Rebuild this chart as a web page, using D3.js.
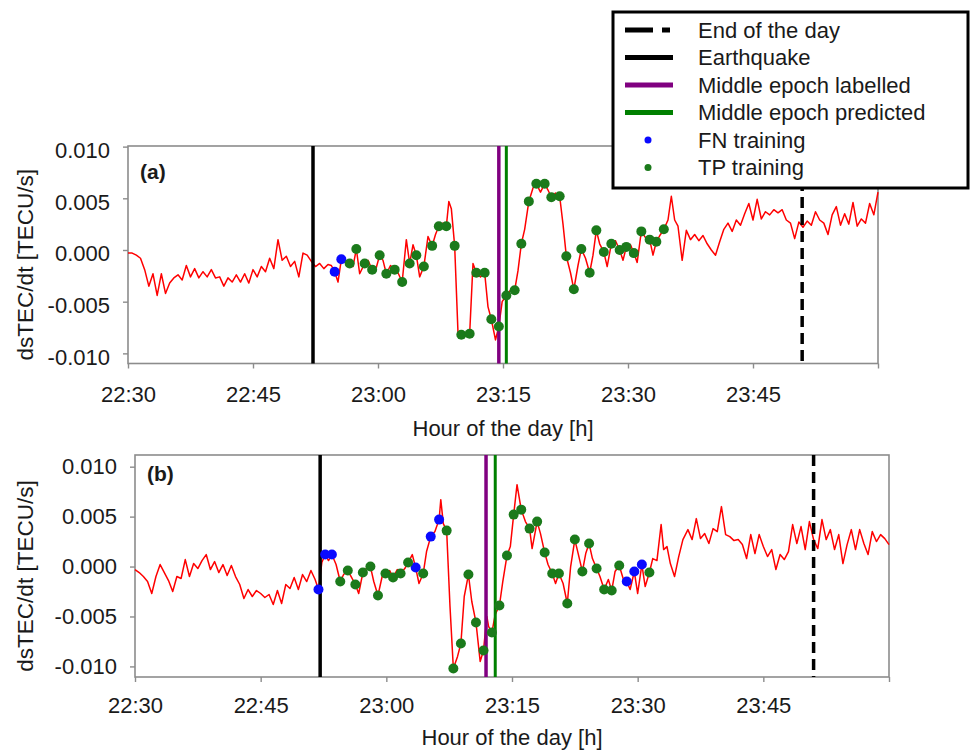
<!DOCTYPE html>
<html>
<head>
<meta charset="utf-8">
<script src="https://d3js.org/d3.v7.min.js"></script>
<style>
  body { margin: 0; background: #fff; }
  text { font-family: "Liberation Sans", Arial, sans-serif; }
</style>
</head>
<body>
<div id="chart"></div>
<script>
// x values are minutes after 22:30, y values are dsTEC/dt in TECU/s

// axis ticks
var xTickMins = [0, 15, 30, 45, 60, 75, 90];
var xTickLabels = ["22:30", "22:45", "23:00", "23:15", "23:30", "23:45", ""];
var yTicks = [-0.010, -0.005, 0.000, 0.005, 0.010];

// vertical markers: end of the day, earthquake, middle epoch labelled, middle epoch predicted
var markerNames = ["End of the day", "Earthquake", "Middle epoch labelled", "Middle epoch predicted"];
var markerMinA = [80.9, 22.2, 44.5, 45.4];
var markerMinB = [81.0, 22.1, 41.9, 43.0];

// Panel (a) series
var minA = [
  0, 0.5, 1, 1.5, 2, 2.5, 3, 3.5, 4, 4.5,
  5, 5.5, 6, 6.5, 7, 7.5, 8, 8.5, 9, 9.5,
  10, 10.5, 11, 11.5, 12, 12.5, 13, 13.5, 14, 14.5,
  15, 15.5, 16, 16.5, 17, 17.5, 18, 18.5, 19, 19.5,
  20, 20.5, 21, 21.5, 22, 22.5, 23, 23.5, 24, 24.4,
  24.8, 25.2, 25.6, 26.1, 26.6, 27.0, 27.4, 27.8, 28.4, 28.8,
  29.3, 29.8, 30.2, 30.6, 31.0, 31.5, 32.0, 32.4, 32.9, 33.4,
  33.8, 34.2, 34.6, 35.0, 35.5, 36.0, 36.5, 36.9, 37.3, 37.8,
  38.2, 38.5, 38.8, 39.2, 39.6, 40.0, 40.5, 41.0, 41.4, 41.8,
  42.3, 42.8, 43.2, 43.6, 44.1, 44.5, 44.9, 45.4, 45.9, 46.4,
  46.8, 47.2, 47.6, 48.1, 48.6, 49.0, 49.5, 50.0, 50.4, 50.8,
  51.3, 51.8, 52.2, 52.6, 53.1, 53.5, 54.0, 54.4, 54.9, 55.4,
  55.8, 56.2, 56.6, 57.1, 57.5, 58.0, 58.5, 59.0, 59.4, 59.8,
  60.3, 60.7, 61.1, 61.6, 62.1, 62.6, 63.0, 63.4, 63.9, 64.3,
  64.8, 65.2, 65.6, 66.0, 66.5, 67.0, 67.5, 68.0, 68.5, 69.0,
  69.5, 70.0, 70.5, 71.0, 71.5, 72.0, 72.5, 73.0, 73.5, 74.0,
  74.5, 75.0, 75.5, 76.0, 76.5, 77.0, 77.5, 78.0, 78.5, 79.0,
  79.5, 80.0, 80.5, 81.0, 81.5, 82.0, 82.5, 83.0, 83.5, 84.0,
  84.5, 85.0, 85.5, 86.0, 86.5, 87.0, 87.5, 88.0, 88.5, 89.0,
  89.5, 90.0
];
var tecA = [
  -0.0003, -0.0003, -0.0005, -0.0008, -0.0019, -0.0035, -0.0023, -0.0044, -0.0023, -0.0042,
  -0.0032, -0.0027, -0.0024, -0.0029, -0.0015, -0.0026, -0.0018, -0.0027, -0.0021, -0.0026,
  -0.0019, -0.0027, -0.0026, -0.0035, -0.0027, -0.0031, -0.0024, -0.0031, -0.0023, -0.0032,
  -0.0019, -0.0026, -0.0016, -0.0021, -0.0008, -0.0018, 0.0010, -0.0010, -0.0006, -0.0016,
  -0.0011, -0.0026, -0.0003, -0.0005, -0.0011, -0.0016, -0.0013, -0.0018, -0.0014, -0.0015,
  -0.0021, -0.0031, -0.0009, -0.0012, -0.0013, -0.0016, 0.0001, -0.0023, -0.0013, -0.0010,
  -0.0019, -0.0017, -0.0005, -0.0010, -0.0023, -0.0015, -0.0019, -0.0022, -0.0031, 0.0010,
  -0.0013, 0.0005, -0.0005, -0.0026, -0.0016, 0.0013, 0.0004, 0.0015, 0.0023, 0.0026,
  0.0023, 0.0047, 0.0040, 0.0004, -0.0080, -0.0082, -0.0082, -0.0081, -0.0013, -0.0022,
  -0.0026, -0.0022, -0.0055, -0.0067, -0.0087, -0.0074, -0.0050, -0.0044, -0.0039, -0.0039,
  -0.0020, 0.0006, 0.0020, 0.0047, 0.0060, 0.0064, 0.0056, 0.0064, 0.0058, 0.0051,
  0.0055, 0.0052, 0.0025, -0.0006, -0.0022, -0.0038, -0.0015, 0.0001, -0.0008, -0.0022,
  -0.0005, 0.0019, 0.0006, -0.0002, -0.0016, 0.0006, 0.0009, 0.0000, -0.0010, 0.0003,
  0.0005, -0.0003, -0.0012, 0.0018, 0.0012, 0.0010, -0.0005, 0.0008, 0.0015, 0.0020,
  0.0029, 0.0052, 0.0029, 0.0023, -0.0010, 0.0019, 0.0010, 0.0015, 0.0009, 0.0014,
  0.0006, 0.0000, -0.0005, 0.0008, 0.0020, 0.0026, 0.0018, 0.0029, 0.0024, 0.0035,
  0.0045, 0.0029, 0.0049, 0.0030, 0.0037, 0.0034, 0.0039, 0.0036, 0.0039, 0.0029,
  0.0026, 0.0011, 0.0027, 0.0022, 0.0028, 0.0024, 0.0037, 0.0029, 0.0026, 0.0015,
  0.0034, 0.0042, 0.0024, 0.0035, 0.0025, 0.0046, 0.0023, 0.0030, 0.0026, 0.0045,
  0.0034, 0.0056
];
var fnMinA = [24.8, 25.6];
var tpMinA = [26.6, 27.4, 28.4, 29.3, 30.2, 31.0, 32.0, 32.9, 33.8, 34.6, 35.5, 36.5, 37.3, 38.2,
  39.2, 40.0, 41.0, 41.8, 42.8, 43.6, 44.5, 45.4, 46.4, 47.2, 48.1, 49.0, 50.0, 50.8, 51.8,
  52.6, 53.5, 54.4, 55.4, 56.2, 57.1, 58.0, 59.0, 59.8, 60.7, 61.6, 62.6, 63.4, 64.3];

// Panel (b) series
var minB = [
  0, 0.5, 1, 1.5, 2, 2.5, 3, 3.5, 4, 4.5,
  5, 5.5, 6, 6.5, 7, 7.5, 8, 8.5, 9, 9.5,
  10, 10.5, 11, 11.5, 12, 12.5, 13, 13.5, 14, 14.5,
  15, 15.5, 16, 16.5, 17, 17.5, 18, 18.5, 19, 19.5,
  20, 20.5, 21, 21.5, 21.9, 22.3, 22.7, 23.1, 23.5, 24.0,
  24.5, 24.9, 25.4, 25.8, 26.3, 26.7, 27.2, 27.6, 28.1, 28.5,
  29.0, 29.5, 29.9, 30.4, 30.8, 31.3, 31.7, 32.2, 32.6, 33.1,
  33.5, 33.9, 34.4, 34.8, 35.3, 35.8, 36.3, 36.5, 36.8, 37.2,
  37.6, 38.0, 38.5, 38.9, 39.3, 39.8, 40.2, 40.7, 41.2, 41.6,
  42.0, 42.2, 42.6, 43.0, 43.5, 43.9, 44.4, 44.8, 45.2, 45.6,
  46.1, 46.6, 47.1, 47.4, 48.0, 48.4, 48.9, 49.3, 49.8, 50.2,
  50.6, 51.1, 51.6, 52.0, 52.5, 52.9, 53.4, 53.8, 54.2, 54.6,
  55.1, 55.5, 56.0, 56.5, 56.9, 57.3, 57.8, 58.3, 58.7, 59.1,
  59.6, 60.0, 60.5, 60.9, 61.4, 61.8, 62.3, 62.8, 63.1, 63.5,
  63.9, 64.4, 64.9, 65.4, 66.0, 66.5, 67.0, 67.5, 68.0, 68.5,
  69.0, 69.5, 70.0, 70.5, 71.0, 71.5, 72.0, 72.5, 73.0, 73.5,
  74.0, 74.5, 75.0, 75.5, 76.0, 76.5, 77.0, 77.5, 78.0, 78.5,
  79.0, 79.5, 80.0, 80.5, 81.0, 81.5, 82.0, 82.5, 83.0, 83.5,
  84.0, 84.5, 85.0, 85.5, 86.0, 86.5, 87.0, 87.5, 88.0, 88.5,
  89.0, 89.5, 90.0
];
var tecB = [
  -0.0003, -0.0006, -0.0010, -0.0015, -0.0027, -0.0010, 0.0002, -0.0006, -0.0014, -0.0025,
  -0.0010, -0.0012, 0.0007, -0.0010, 0.0003, -0.0002, 0.0006, 0.0012, -0.0003, 0.0005,
  -0.0006, 0.0002, -0.0009, 0.0001, -0.0010, -0.0018, -0.0032, -0.0023, -0.0030, -0.0024,
  -0.0027, -0.0031, -0.0028, -0.0038, -0.0024, -0.0037, -0.0018, -0.0022, -0.0011, -0.0023,
  -0.0008, -0.0015, -0.0004, -0.0013, -0.0023, 0.0004, 0.0012, 0.0006, 0.0012, 0.0002,
  -0.0015, -0.0008, -0.0004, -0.0010, -0.0018, -0.0027, -0.0006, -0.0002, 0.0000, -0.0015,
  -0.0029, -0.0010, -0.0007, -0.0004, -0.0011, -0.0003, -0.0007, -0.0002, 0.0004, 0.0012,
  -0.0001, -0.0017, -0.0007, 0.0015, 0.0030, 0.0035, 0.0047, 0.0067, 0.0043, 0.0036,
  -0.0040, -0.0102, -0.0090, -0.0077, -0.0030, -0.0008, -0.0035, -0.0056, -0.0095, -0.0084,
  -0.0050, -0.0060, -0.0066, -0.0048, -0.0039, -0.0015, 0.0011, 0.0020, 0.0052, 0.0082,
  0.0057, 0.0045, 0.0038, 0.0018, 0.0045, 0.0033, 0.0014, 0.0002, -0.0007, -0.0017,
  -0.0007, -0.0017, -0.0037, 0.0000, 0.0027, 0.0013, -0.0005, 0.0013, 0.0023, 0.0008,
  -0.0002, -0.0010, -0.0023, -0.0013, -0.0024, -0.0005, 0.0001, -0.0013, -0.0015, -0.0023,
  -0.0005, -0.0027, 0.0002, -0.0020, -0.0006, 0.0008, 0.0006, 0.0042, 0.0017, 0.0020,
  0.0003, -0.0010, 0.0010, 0.0027, 0.0037, 0.0027, 0.0048, 0.0028, 0.0033, 0.0023,
  0.0038, 0.0035, 0.0060, 0.0032, 0.0030, 0.0026, 0.0027, 0.0022, 0.0008, 0.0032,
  0.0013, 0.0032, 0.0020, 0.0010, 0.0017, -0.0003, 0.0012, 0.0007, 0.0015, 0.0042,
  0.0023, 0.0040, 0.0017, 0.0045, 0.0027, 0.0018, 0.0047, 0.0027, 0.0037, 0.0017,
  0.0032, 0.0003, 0.0022, 0.0037, 0.0017, 0.0037, 0.0023, 0.0012, 0.0035, 0.0025,
  0.0032, 0.0028, 0.0022
];
var fnMinB = [21.9, 22.7, 23.5, 33.5, 35.3, 36.3, 58.7, 59.6, 60.5];
var tpMinB = [24.5, 25.4, 26.3, 27.2, 28.1, 29.0, 29.9, 30.8, 31.7, 32.6, 34.4, 37.2, 38.0,
  38.9, 39.8, 40.7, 41.6, 42.6, 43.5, 44.4, 45.2, 46.1, 47.1, 48.0, 48.9, 49.8, 50.6, 51.6,
  52.5, 53.4, 54.2, 55.1, 56.0, 56.9, 57.8, 61.4];

// styles
var textColor = "#1a1a1a";
var frameColor = "#8c8c8c";
var markerStyle = [
  { color: "#000000", width: 3.5, dash: "11,6" },   // end of the day
  { color: "#000000", width: 3.5, dash: null },     // earthquake
  { color: "#800080", width: 3.5, dash: null },     // labelled
  { color: "#008000", width: 3, dash: null }        // predicted
];
var fnColor = "#0a0aff", tpColor = "#1b7a1b";

var svg = d3.select("#chart")
  .append("svg")
  .attr("width", 970)
  .attr("height", 751)
  .style("background", "#fff");

function drawPanel(p) {
  var x = d3.scaleLinear().domain([0, 90]).range([p.left, p.right]);
  var y = d3.scaleLinear().domain(p.yDomain).range([p.bottom, p.top]);
  var g = svg.append("g");

  // frame
  g.append("rect")
    .attr("x", p.left).attr("y", p.top)
    .attr("width", p.right - p.left).attr("height", p.bottom - p.top)
    .attr("fill", "none").attr("stroke", frameColor).attr("stroke-width", 1.6);

  // X axis
  var xa = g.append("g")
    .attr("transform", "translate(0," + p.bottom + ")")
    .call(d3.axisBottom(x).tickValues(xTickMins).tickSize(5).tickPadding(p.xPad)
      .tickFormat(function (d, i) { return xTickLabels[i]; }));

  // Y axis
  var ya = g.append("g")
    .attr("transform", "translate(" + p.left + ",0)")
    .call(d3.axisLeft(y).tickValues(yTicks).tickSize(5).tickPadding(13)
      .tickFormat(function (d) { return d.toFixed(3); }));
  ya.selectAll("text").attr("dy", p.yDy);

  [xa, ya].forEach(function (a) {
    a.select(".domain").remove();
    a.selectAll("line").attr("stroke", frameColor).attr("stroke-width", 1.4);
    a.selectAll("text").attr("fill", textColor)
      .style("font-size", "22px").style("font-family", "'Liberation Sans', Arial, sans-serif");
  });

  // red series
  var pts = p.mins.map(function (m, i) { return [m, p.vals[i]]; });
  g.append("path")
    .datum(pts)
    .attr("fill", "none")
    .attr("stroke", "#ff0000")
    .attr("stroke-width", 1.5)
    .attr("stroke-linejoin", "round")
    .attr("d", d3.line()
      .x(function (d) { return x(d[0]); })
      .y(function (d) { return y(d[1]); }));

  // vertical markers (earthquake, labelled, predicted, end of day)
  [1, 2, 3, 0].forEach(function (k) {
    var s = markerStyle[k];
    g.append("line")
      .attr("x1", x(p.markers[k])).attr("x2", x(p.markers[k]))
      .attr("y1", p.top).attr("y2", p.bottom)
      .attr("stroke", s.color).attr("stroke-width", s.width)
      .attr("stroke-dasharray", s.dash);
  });

  // training points
  function lookup(m) {
    var i = p.mins.findIndex(function (t) { return Math.abs(t - m) < 0.001; });
    return [m, p.vals[i]];
  }
  g.selectAll(".fn").data(p.fn.map(lookup)).enter().append("circle")
    .attr("cx", function (d) { return x(d[0]); })
    .attr("cy", function (d) { return y(d[1]); })
    .attr("r", 5).attr("fill", fnColor);
  g.selectAll(".tp").data(p.tp.map(lookup)).enter().append("circle")
    .attr("cx", function (d) { return x(d[0]); })
    .attr("cy", function (d) { return y(d[1]); })
    .attr("r", 5).attr("fill", tpColor);

  // panel label
  g.append("text")
    .attr("x", p.left + 12).attr("y", p.top + p.labelY)
    .attr("fill", textColor).style("font-size", "21px").style("font-weight", "bold")
    .text(p.label);

  // axis titles
  g.append("text")
    .attr("x", (p.left + p.right) / 2).attr("y", p.xTitleY)
    .attr("text-anchor", "middle").attr("fill", textColor).style("font-size", "22px")
    .text("Hour of the day [h]");
  g.append("text")
    .attr("transform", "translate(33," + ((p.top + p.bottom) / 2 + 10) + ") rotate(-90)")
    .attr("text-anchor", "middle").attr("fill", textColor).style("font-size", "22.5px")
    .text("dsTEC/dt [TECU/s]");
}

drawPanel({
  left: 128, right: 878, top: 146, bottom: 363.5,
  yDomain: [-0.01098, 0.01006], yDy: "0.5em", xPad: 18,
  mins: minA, vals: tecA, fn: fnMinA, tp: tpMinA, markers: markerMinA,
  label: "(a)", labelY: 33, xTitleY: 436
});
drawPanel({
  left: 135, right: 889, top: 455, bottom: 677,
  yDomain: [-0.01106, 0.01117], yDy: "0.32em", xPad: 15,
  mins: minB, vals: tecB, fn: fnMinB, tp: tpMinB, markers: markerMinB,
  label: "(b)", labelY: 26, xTitleY: 745
});

// Legend
var legend = svg.append("g");
legend.append("rect")
  .attr("x", 613).attr("y", 12).attr("width", 355).attr("height", 176)
  .attr("fill", "#fff").attr("stroke", "#000").attr("stroke-width", 3);

var legendNames = markerNames.concat(["FN training", "TP training"]);
legendNames.forEach(function (name, i) {
  var cy = 30 + i * 27.5;
  if (i < 4) {
    var s = markerStyle[i];
    legend.append("line")
      .attr("x1", 625).attr("x2", i === 0 ? 670 : 673)
      .attr("y1", cy).attr("y2", cy)
      .attr("stroke", s.color).attr("stroke-width", 5)
      .attr("stroke-dasharray", i === 0 ? "28,9" : null);
  } else {
    legend.append("circle")
      .attr("cx", 648).attr("cy", cy).attr("r", 3.5)
      .attr("fill", i === 4 ? fnColor : tpColor);
  }
  legend.append("text")
    .attr("x", 698).attr("y", cy).attr("dy", "0.35em")
    .attr("fill", textColor).style("font-size", "22px")
    .text(name);
});
</script>
</body>
</html>
